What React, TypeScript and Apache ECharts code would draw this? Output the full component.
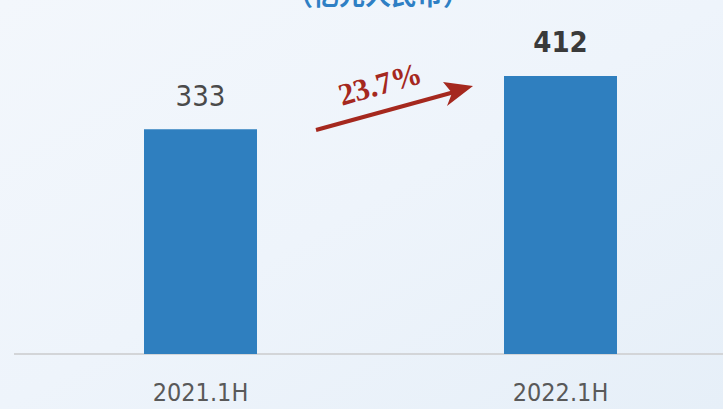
import React, { useEffect, useRef } from "react";
import * as echarts from "echarts";

const categories = ["2021.1H", "2022.1H"];
const values = [333, 412];
const growthLabel = "23.7%";
const titleText = "（亿元人民币）";

const narrow = "'DejaVu Sans Condensed', 'Liberation Sans Narrow', 'Arial Narrow', sans-serif";

export default function App() {
  const ref = useRef<HTMLDivElement>(null);
  useEffect(() => {
    document.body.style.margin = "0";
    const chart = echarts.init(ref.current!, null, { renderer: "svg" });
    chart.setOption({
      animation: false,
      backgroundColor: {
        type: "linear",
        x: 0, y: 0, x2: 1, y2: 1,
        colorStops: [
          { offset: 0, color: "#f3f7fc" },
          { offset: 0.5, color: "#eef4fb" },
          { offset: 1, color: "#e6eff8" },
        ],
      },
      grid: {
        left: 20.5,
        top: 16.5,
        width: 720,
        height: 337.5,
        containLabel: false,
        outerBoundsMode: "none",
      },
      xAxis: {
        type: "category",
        data: categories,
        axisLine: { show: true, lineStyle: { color: "#d3d5d8", width: 2 } },
        axisTick: { show: false },
        axisLabel: {
          margin: 26,
          color: "#595959",
          fontSize: 25,
          fontFamily: narrow,
        },
      },
      yAxis: {
        type: "value",
        min: 0,
        max: 500,
        show: false,
        splitLine: { show: false },
      },
      series: [
        {
          type: "bar",
          data: values.map((v, i) => ({
            value: v,
            label: {
              show: true,
              position: "top",
              distance: 19,
              fontSize: 29,
              fontWeight: i === 1 ? "bold" : "normal",
              color: i === 1 ? "#3a3a3a" : "#4a4a4a",
              fontFamily: narrow,
            },
          })),
          barWidth: 113,
          itemStyle: { color: "#2f7fbf" },
        },
      ],
      graphic: [
        {
          type: "line",
          shape: { x1: 14, y1: 354, x2: 22, y2: 354 },
          style: { stroke: "#d3d5d8", lineWidth: 2 },
        },
        {
          type: "text",
          x: 378,
          y: 6,
          style: {
            text: titleText,
            fill: "#2e7fc4",
            font: "bold 26px 'Noto Sans CJK SC', sans-serif",
            textAlign: "center",
            textVerticalAlign: "bottom",
          },
        },
        {
          type: "line",
          shape: { x1: 316, y1: 130, x2: 458, y2: 91 },
          style: { stroke: "#a5281e", lineWidth: 4 },
        },
        {
          type: "polygon",
          shape: { points: [[473, 86], [443, 82], [452, 93], [447, 106]] },
          style: { fill: "#a5281e" },
        },
        {
          type: "text",
          x: 380,
          y: 84,
          rotation: (16 * Math.PI) / 180,
          style: {
            text: growthLabel,
            fill: "#a5281e",
            font: "bold 31px 'Liberation Serif', 'Times New Roman', serif",
            textAlign: "center",
            textVerticalAlign: "middle",
          },
        },
      ],
    });
    return () => chart.dispose();
  }, []);
  return <div ref={ref} style={{ width: 723, height: 409 }} />;
}
